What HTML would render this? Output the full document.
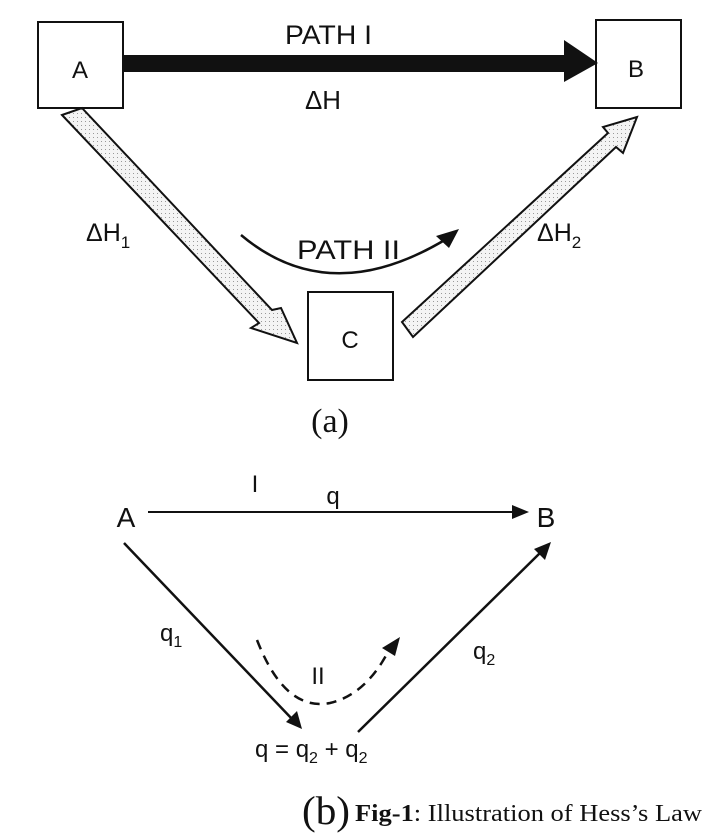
<!DOCTYPE html>
<html><head><meta charset="utf-8"><style>
html,body{margin:0;padding:0;background:#fff;}
svg{display:block;}
.s{font-family:"Liberation Sans",sans-serif;fill:#111;}
.r{font-family:"Liberation Serif",serif;fill:#111;}
</style></head><body>
<svg width="707" height="838" viewBox="0 0 707 838" xmlns="http://www.w3.org/2000/svg">
<defs>
<pattern id="dots" width="4" height="4" patternUnits="userSpaceOnUse"><rect width="4" height="4" fill="#f4f4f4"/><rect x="1" y="1" width="1" height="1" fill="#999"/></pattern>
</defs>
<rect x="38" y="22" width="85" height="86" fill="#fff" stroke="#111" stroke-width="2"/>
<rect x="596" y="20" width="85" height="88" fill="#fff" stroke="#111" stroke-width="2"/>
<rect x="308" y="292" width="85" height="88" fill="#fff" stroke="#111" stroke-width="2"/>
<text x="80" y="78" class="s" font-size="24" text-anchor="middle">A</text>
<text x="636" y="77" class="s" font-size="24" text-anchor="middle">B</text>
<text x="350" y="348" class="s" font-size="24" text-anchor="middle">C</text>
<polygon points="123,55 564,55 564,40 598,63 564,82 564,72 123,72" fill="#111"/>
<text x="285" y="44" class="s" font-size="27" textLength="87" lengthAdjust="spacingAndGlyphs">PATH I</text>
<text x="305" y="109" class="s" font-size="26" textLength="36" lengthAdjust="spacingAndGlyphs">ΔH</text>
<polygon points="62,115 82,108 272,310 281,308 297,343 251,328 259,323" fill="url(#dots)" stroke="#111" stroke-width="2"/>
<polygon points="402,322 413,337 616,147 623,153 637,117 603,127 608,133" fill="url(#dots)" stroke="#111" stroke-width="2"/>
<text x="86" y="241" class="s" font-size="25">ΔH<tspan font-size="17" dy="7">1</tspan></text>
<text x="537" y="241" class="s" font-size="25">ΔH<tspan font-size="17" dy="7">2</tspan></text>
<text x="297" y="259" class="s" font-size="27" textLength="103" lengthAdjust="spacingAndGlyphs">PATH II</text>
<path d="M241,235 Q330,310 448,238" fill="none" stroke="#111" stroke-width="2.5"/>
<polygon points="459,229 436,236 449,248" fill="#111"/>
<text x="330" y="432" class="r" font-size="34" text-anchor="middle">(a)</text>
<text x="126" y="527" class="s" font-size="28" text-anchor="middle">A</text>
<text x="546" y="527" class="s" font-size="28" text-anchor="middle">B</text>
<line x1="148" y1="512" x2="515" y2="512" stroke="#111" stroke-width="2"/>
<polygon points="529,512 512,505 512,519" fill="#111"/>
<text x="255" y="492" class="s" font-size="24" text-anchor="middle">I</text>
<text x="333" y="504" class="s" font-size="24" text-anchor="middle">q</text>
<line x1="124" y1="543" x2="293" y2="720" stroke="#111" stroke-width="2.5"/>
<polygon points="302,729 286,722 297,711" fill="#111"/>
<line x1="358" y1="732" x2="541" y2="552" stroke="#111" stroke-width="2.5"/>
<polygon points="551,542 534,549 545,560" fill="#111"/>
<text x="160" y="641" class="s" font-size="24">q<tspan font-size="16" dy="6">1</tspan></text>
<text x="473" y="659" class="s" font-size="24">q<tspan font-size="16" dy="6">2</tspan></text>
<text x="318" y="684" class="s" font-size="24" text-anchor="middle">II</text>
<path d="M257,640 Q285,712 330,703 Q365,695 388,652" fill="none" stroke="#111" stroke-width="2.5" stroke-dasharray="10,7"/>
<polygon points="400,637 382,648 395,656" fill="#111"/>
<text x="255" y="757" class="s" font-size="24">q = q<tspan font-size="16" dy="6">2</tspan><tspan dy="-6"> + q</tspan><tspan font-size="16" dy="6">2</tspan></text>
<text x="302" y="824" class="r" font-size="40" textLength="48" lengthAdjust="spacingAndGlyphs">(b)</text>
<text x="355" y="821" class="r" font-size="24" textLength="347" lengthAdjust="spacingAndGlyphs"><tspan font-weight="bold">Fig-1</tspan>: Illustration of Hess’s Law</text>
</svg>
</body></html>
